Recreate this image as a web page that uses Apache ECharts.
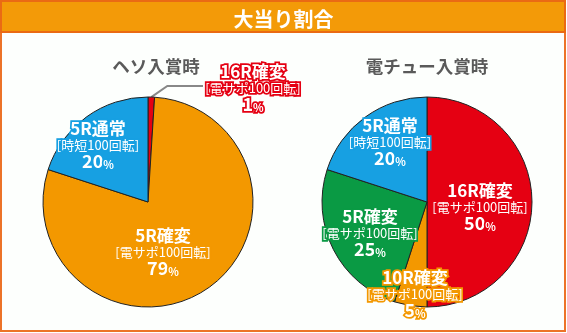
<!DOCTYPE html>
<html><head><meta charset="utf-8">
<script src="https://cdn.jsdelivr.net/npm/echarts@6/dist/echarts.min.js"></script>
<style>html,body{margin:0;padding:0;background:#fff}#c{width:567px;height:333px}</style>
</head><body><div id="c"></div>
<script>
// ---- data ----
const chartTitle = '大当り割合';
const pieTitles = ['ヘソ入賞時', '電チュー入賞時'];
const hesoNames = ['16R確変', '5R確変', '5R通常'];
const hesoSubs = ['[電サポ100回転]', '[電サポ100回転]', '[時短100回転]'];
const hesoValues = [1, 79, 20];
const denchuNames = ['16R確変', '10R確変', '5R確変', '5R通常'];
const denchuSubs = ['[電サポ100回転]', '[電サポ100回転]', '[電サポ100回転]', '[時短100回転]'];
const denchuValues = [50, 5, 25, 20];

// ---- styles / layout ----
const FONT = '"Noto Sans CJK JP", "Noto Sans", sans-serif';
const C = {red: '#e50012', orange: '#f39800', blue: '#17a0e2', green: '#0a9a44'};
const hesoColors = [C.red, C.orange, C.blue];
const denchuColors = [C.red, C.orange, C.green, C.blue];
const labelPos = [
  [[253, 88], [163, 252], [98, 145]],
  [[480, 207], [415, 294], [370, 233], [390, 142]]
];

function buildData(names, subs, values, colors, outsideIdx) {
  return names.map((n, i) => ({
    name: n, value: values[i], sub: subs[i],
    itemStyle: {color: colors[i]},
    label: {
      position: i === outsideIdx ? 'outside' : 'inside',
      textBorderColor: colors[i], textBorderWidth: 3.5
    },
    labelLine: {show: i === outsideIdx}
  }));
}

const rich = {
  a: {fontFamily: FONT, fontSize: 17, fontWeight: 'bold', color: '#fff', lineHeight: 17},
  b: {fontFamily: FONT, fontSize: 13, fontWeight: 'normal', color: '#fff', lineHeight: 16},
  c: {fontFamily: FONT, fontSize: 18, fontWeight: 'bold', color: '#fff', lineHeight: 17},
  d: {fontFamily: FONT, fontSize: 11, fontWeight: 'bold', color: '#fff', lineHeight: 17, verticalAlign: 'bottom'}
};
function fmt(p) {
  return '{a|' + p.name + '}\n{b|' + p.data.sub + '}\n{c|' + p.value + '}{d|%}';
}

function pieSeries(data, center) {
  return {
    type: 'pie', center: center, radius: 105, startAngle: 90, clockwise: true,
    avoidLabelOverlap: false, silent: true, animation: false,
    itemStyle: {borderColor: '#222', borderWidth: 1},
    label: {show: true, formatter: fmt, rich: rich, color: '#fff', align: 'center'},
    labelLine: {lineStyle: {color: '#888', width: 2}, length: 10, length2: 40},
    labelLayout: function (params) {
      const p = labelPos[params.seriesIndex][params.dataIndex];
      const res = {x: p[0], y: p[1], align: 'center', verticalAlign: 'middle'};
      if (params.labelLinePoints) {
        const s = params.labelLinePoints[0];
        const ly = p[1] - 2;
        const m = [s[0] + (s[1] - ly) * 1.45, ly];
        res.labelLinePoints = [s, m, [p[0] - 50, ly]];
      }
      return res;
    },
    data: data
  };
}

const chart = echarts.init(document.getElementById('c'), null, {renderer: 'canvas'});
chart.setOption({
  animation: false,
  backgroundColor: '#fff',
  graphic: [
    {type: 'rect', z: -10, shape: {x: 1, y: 1, width: 564, height: 330}, style: {fill: '#fdfffd', stroke: '#ec7328', lineWidth: 2}},
    {type: 'rect', z: -9, shape: {x: 1, y: 1, width: 564, height: 31}, style: {fill: '#f39a08', stroke: '#ea6a14', lineWidth: 2}}
  ],
  title: [
    {text: chartTitle, left: 'center', top: 4, textStyle: {fontFamily: FONT, fontSize: 20, fontWeight: 'bold', color: '#fff'}},
    {text: pieTitles[0], left: 151, top: 53, textAlign: 'center', textStyle: {fontFamily: FONT, fontSize: 17.5, fontWeight: 'bold', color: '#5a5a5a'}},
    {text: pieTitles[1], left: 422, top: 53, textAlign: 'center', textStyle: {fontFamily: FONT, fontSize: 17.5, fontWeight: 'bold', color: '#5a5a5a'}}
  ],
  series: [
    pieSeries(buildData(hesoNames, hesoSubs, hesoValues, hesoColors, 0), [148, 202]),
    pieSeries(buildData(denchuNames, denchuSubs, denchuValues, denchuColors, -1), [427, 202])
  ]
});
</script></body></html>
